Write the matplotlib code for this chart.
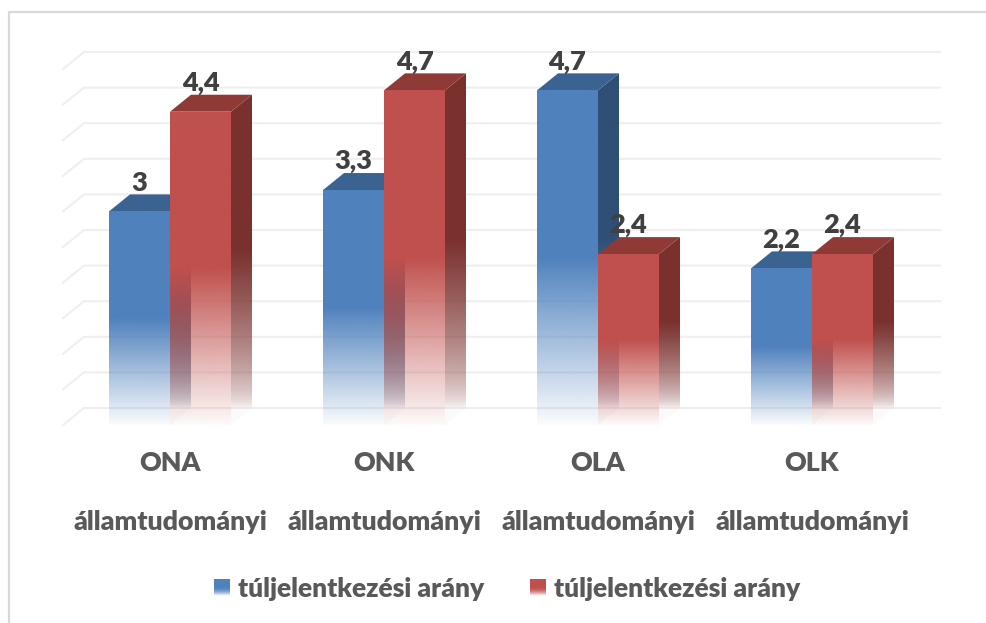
import numpy as np
import matplotlib as mpl
mpl.use('Agg')
import matplotlib.pyplot as plt
from matplotlib.colors import to_rgb
from matplotlib.legend_handler import HandlerBase
from matplotlib.patches import Patch, Polygon, Rectangle

plt.rcParams['font.family'] = ['Lato', 'DejaVu Sans']

groups = ['ONA', 'ONK', 'OLA', 'OLK']
subtitle = 'államtudományi'
series_name = 'túljelentkezési arány'
blue_values = [3, 3.3, 4.7, 2.2]
red_values = [4.4, 4.7, 2.4, 2.4]
blue_labels = ['3', '3,3', '4,7', '2,2']
red_labels = ['4,4', '4,7', '2,4', '2,4']
grid_values = np.arange(0, 5.5, 0.5)

BAR_W = 61 / 214
DX = 21 / 214      # depth of the 3d box, in data units
DY = 17 / 71.2
TEXT = '#595959'
LABEL = '#404040'
GRID = '#EFEFEF'

fig = plt.figure(figsize=(9.86, 6.23), dpi=100)
ax = fig.add_axes([63 / 986, (623 - 425) / 623, 856 / 986, 356 / 623])
ax.set_xlim(-0.5, 3.5)
ax.set_ylim(0, 5)
for s in ax.spines.values():
    s.set_visible(False)
ax.set_yticks([])

# chart frame, only left and top show in the crop
fig.add_artist(plt.Line2D([9 / 986, 9 / 986, 1], [0, 1 - 12 / 623, 1 - 12 / 623],
                          color='#D9D9D9', lw=1.6))

for g in grid_values:
    ax.plot([-0.5, -0.5 + DX, 3.5 + DX], [g, g + DY, g + DY], color=GRID, lw=1.5,
            clip_on=False, zorder=1)


def fade_face(verts, color, height, shift, z, power=1.0):
    # solid down to half the bar height, then fading out to the floor
    ys = np.linspace(0, height + DY, 300)
    t = np.clip((ys - shift) / (height * 0.5), 0, 1)
    alpha = 0.03 + 0.97 * t ** power
    rgba = np.zeros((300, 1, 4))
    rgba[:, 0, :3] = to_rgb(color)
    rgba[:, 0, 3] = alpha
    xs = [v[0] for v in verts]
    im = ax.imshow(rgba, origin='lower', aspect='auto', interpolation='bilinear',
                   extent=(min(xs), max(xs), 0, height + DY), zorder=z)
    im.set_clip_path(Polygon(verts, transform=ax.transData))


def box(x0, h, front, side, top, z):
    x1 = x0 + BAR_W
    fade_face([(x1, 0), (x1 + DX, DY), (x1 + DX, h + DY), (x1, h)], side, h, DY, z, power=0.6)
    ax.add_patch(Polygon([(x0, h), (x1, h), (x1 + DX, h + DY), (x0 + DX, h + DY)],
                         facecolor=top, edgecolor='none', zorder=z, clip_on=False))
    fade_face([(x0, 0), (x1, 0), (x1, h), (x0, h)], front, h, 0, z + 0.1)


for i in range(len(groups)):
    box(i - BAR_W, blue_values[i], '#4F81BD', '#2F4F75', '#3B6391', 2 + i)
    box(i, red_values[i], '#C0504D', '#7A312E', '#8F3A37', 2.5 + i)

for i in range(len(groups)):
    ax.annotate(blue_labels[i], (i - BAR_W / 2, blue_values[i]), xytext=(0, 12), textcoords='offset points',
                ha='center', va='bottom', fontsize=19.5, fontweight='heavy', color=LABEL, zorder=10)
    ax.annotate(red_labels[i], (i + BAR_W / 2, red_values[i]), xytext=(0, 12), textcoords='offset points',
                ha='center', va='bottom', fontsize=19.5, fontweight='heavy', color=LABEL, zorder=10)

ax.set_xticks(range(len(groups)))
ax.set_xticklabels([g + '\n' + subtitle for g in groups], linespacing=2.72,
                   fontsize=19.3, fontweight='heavy', color=TEXT)
ax.tick_params(axis='x', length=0, pad=19)


class FadeSwatch(HandlerBase):
    def create_artists(self, legend, orig, xd, yd, w, h, fontsize, trans):
        out = []
        n = 16
        for k in range(n):
            t = k / n
            a = min(1, 0.05 + t / 0.55)
            r = Rectangle((-xd, -yd + h * t), w, h / n + 0.2, facecolor=orig.get_facecolor()[:3],
                          alpha=a, edgecolor='none', transform=trans)
            out.append(r)
        return out


handles = [Patch(facecolor='#4F81BD'), Patch(facecolor='#C0504D')]
fig.legend(handles, [series_name, series_name], ncol=2, frameon=False,
           loc='center', bbox_to_anchor=(507 / 986, 1 - 589 / 623),
           handler_map={Patch: FadeSwatch()}, handlelength=0.62, handleheight=0.55,
           handletextpad=0.3, columnspacing=1.72, labelcolor=TEXT,
           prop={'size': 19.0, 'weight': 'heavy'})

fig.savefig('out.png', dpi=100)
